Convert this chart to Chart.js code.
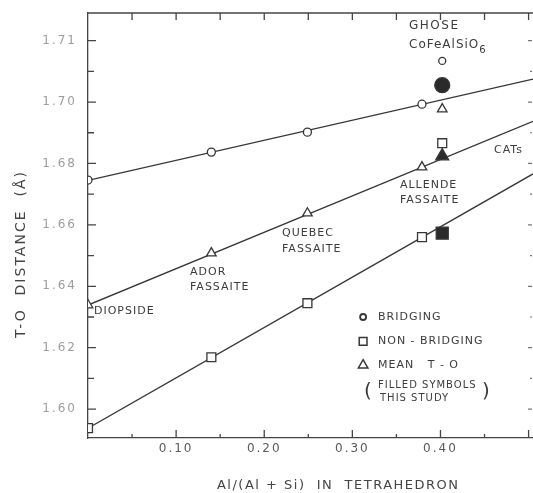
<!DOCTYPE html>
<html><head><meta charset="utf-8">
<script src="https://cdn.jsdelivr.net/npm/chart.js@4/dist/chart.umd.min.js"></script>
<style>html,body{margin:0;padding:0;background:#fff;}#wrap{width:533px;height:493px;}</style>
</head><body><div id="wrap"><canvas id="c" width="533" height="493"></canvas></div>
<script>
// ---- data ----
const seriesX = [0, 0.140, 0.249, 0.379];
const bridgingY = [1.6746, 1.6837, 1.6902, 1.6993];
const nonBridgingY = [1.5938, 1.6169, 1.6345, 1.6560];
const meanY = [1.6339, 1.6508, 1.6638, 1.6788];
const ghoseX = [0.402];
const ghoseBridging = [1.7134];
const ghoseNonBridging = [1.6866];
const ghoseMean = [1.6977];
const studyX = [0.402];
const studyBridging = [1.7055];
const studyNonBridging = [1.6573];
const studyMean = [1.6824];
const fitX = [0, 0.505];
const bridgingFit = [1.6745, 1.7075];
const meanFit = [1.6339, 1.6937];
const nonBridgingFit = [1.5938, 1.6766];
const xTickValues = [0.1, 0.2, 0.3, 0.4];
const xTickLabels = ['0.10', '0.20', '0.30', '0.40'];
const yTickValues = [1.60, 1.62, 1.64, 1.66, 1.68, 1.70, 1.72];
const yTickLabels = ['1.60', '1.62', '1.64', '1.66', '1.68', '1.70', '1.71'];
const xMinorTicks = [0.05, 0.10, 0.15, 0.20, 0.25, 0.30, 0.35, 0.40, 0.45, 0.50];
const yMinorTicks = [1.60, 1.61, 1.62, 1.63, 1.64, 1.65, 1.66, 1.67, 1.68, 1.69, 1.70, 1.71, 1.72];
const xTitle = 'Al/(Al + Si)  IN  TETRAHEDRON';
const yTitle = 'T-O  DISTANCE  (Å)';
const notes = [
  {t: 'CATs', x: 0.4607, y: 1.6844},
  {t: 'ALLENDE', x: 0.354, y: 1.6730},
  {t: 'FASSAITE', x: 0.354, y: 1.6681},
  {t: 'QUEBEC', x: 0.2202, y: 1.6573},
  {t: 'FASSAITE', x: 0.2202, y: 1.6521},
  {t: 'ADOR', x: 0.1158, y: 1.6446},
  {t: 'FASSAITE', x: 0.1158, y: 1.6397},
  {t: 'DIOPSIDE', x: 0.0068, y: 1.6319}
];
const ghoseNote = {t: 'GHOSE', x: 0.3643, y: 1.7248};
const formula = {t: 'CoFeAlSiO', sub: '6', x: 0.3643, y: 1.7186};
const legendItems = [
  {t: 'BRIDGING', s: 'circle', y: 1.6300},
  {t: 'NON - BRIDGING', s: 'rect', y: 1.6221},
  {t: 'MEAN   T - O', s: 'triangle', y: 1.6143}
];
const legendSymbolX = 0.3122, legendTextX = 0.3291;
const footnote = [{t: 'FILLED SYMBOLS', y: 1.6078}, {t: 'THIS STUDY', y: 1.6036}];

const INK = '#363636';
const pts = (xs, ys) => xs.map((x, i) => ({x, y: ys[i]}));
const lineDs = (ys) => ({type: 'line', data: pts(fitX, ys), borderColor: INK, borderWidth: 1.3, pointRadius: 0, fill: false, order: 2});
const markDs = (xs, ys, style, r, filled) => ({data: pts(xs, ys), showLine: false, pointStyle: style, pointRadius: r,
  pointBorderWidth: 1.3, pointBorderColor: INK, pointBackgroundColor: filled ? '#2a2a2a' : '#fff', order: 1});

const decor = {
  id: 'decor',
  beforeDraw(chart) { chart.ctx.letterSpacing = '2px'; },
  afterDraw(chart) {
    const ctx = chart.ctx, xs = chart.scales.x, ys = chart.scales.y, a = chart.chartArea;
    const X = v => xs.getPixelForValue(v), Y = v => ys.getPixelForValue(v);
    ctx.save();
    ctx.strokeStyle = '#444'; ctx.lineWidth = 1.3;
    // top border
    ctx.beginPath(); ctx.moveTo(a.left, a.top); ctx.lineTo(a.right, a.top); ctx.stroke();
    ctx.beginPath();
    xMinorTicks.forEach((v, i) => {
      const major = i % 2 === 1;
      const px = X(v);
      ctx.moveTo(px, a.bottom); ctx.lineTo(px, a.bottom - (major ? 8 : 4));
      ctx.moveTo(px, a.top); ctx.lineTo(px, a.top + 7);
    });
    yMinorTicks.forEach((v, i) => {
      const major = i % 2 === 0;
      const py = Y(v);
      ctx.moveTo(a.left, py); ctx.lineTo(a.left + (major ? 8 : 6), py);
    });
    ctx.stroke();
    ctx.strokeStyle = '#777'; ctx.lineWidth = 1.2;
    ctx.beginPath();
    yMinorTicks.forEach((v, i) => {
      const major = i % 2 === 0;
      const py = Y(v);
      ctx.moveTo(a.right - 1, py); ctx.lineTo(a.right - (major ? 5 : 3), py);
    });
    ctx.stroke();

    // annotations
    ctx.fillStyle = '#3c3c3c';
    ctx.textBaseline = 'middle'; ctx.textAlign = 'left';
    ctx.font = '11px "DejaVu Sans"';
    ctx.letterSpacing = '1px';
    notes.forEach(n => ctx.fillText(n.t, X(n.x), Y(n.y)));
    ctx.font = '12px "DejaVu Sans"';
    ctx.letterSpacing = '1.5px';
    ctx.fillText(ghoseNote.t, X(ghoseNote.x), Y(ghoseNote.y));
    const fx = X(formula.x), fy = Y(formula.y);
    ctx.letterSpacing = '1px';
    ctx.fillText(formula.t, fx, fy);
    const w = ctx.measureText(formula.t).width;
    ctx.font = '10px "DejaVu Sans"';
    ctx.fillText(formula.sub, fx + w, fy + 5);

    // legend
    ctx.font = '11px "DejaVu Sans"';
    legendItems.forEach(it => {
      const px = X(legendSymbolX), py = Y(it.y);
      ctx.lineWidth = it.s === 'circle' ? 1.8 : 1.5;
      ctx.strokeStyle = INK; ctx.fillStyle = '#fff';
      Chart.helpers.drawPoint(ctx, {pointStyle: it.s, radius: it.s === 'circle' ? 3 : 5.5, borderWidth: 1.5}, px, py);
      ctx.fillStyle = '#3c3c3c';
      ctx.fillText(it.t, X(legendTextX), py);
    });
    ctx.font = '10px "DejaVu Sans"';
    ctx.fillText(footnote[0].t, X(legendTextX), Y(footnote[0].y));
    ctx.fillText(footnote[1].t, X(legendTextX) + 2, Y(footnote[1].y));
    ctx.font = '20px "DejaVu Sans"';
    ctx.letterSpacing = '0px';
    const midY = (Y(footnote[0].y) + Y(footnote[1].y)) / 2;
    ctx.fillText('(', X(legendSymbolX) + 1, midY);
    ctx.fillText(')', X(legendTextX) + 104, midY);

    // axis titles
    ctx.fillStyle = '#444';
    ctx.font = '13px "DejaVu Sans"';
    ctx.letterSpacing = '1.5px';
    ctx.textAlign = 'center';
    ctx.fillText(xTitle, X(0.284), chart.height - 7);
    ctx.save();
    ctx.translate(21, Y(1.6505));
    ctx.rotate(-Math.PI / 2);
    ctx.font = '14px "DejaVu Sans"';
    ctx.letterSpacing = '2px';
    ctx.fillText(yTitle, 0, 0);
    ctx.restore();
    ctx.restore();
  }
};

new Chart(document.getElementById('c'), {
  type: 'scatter',
  data: {datasets: [
    lineDs(bridgingFit), lineDs(meanFit), lineDs(nonBridgingFit),
    markDs(seriesX, bridgingY, 'circle', 4, false),
    markDs(seriesX, nonBridgingY, 'rect', 6.3, false),
    markDs(seriesX, meanY, 'triangle', 5.5, false),
    markDs(ghoseX, ghoseBridging, 'circle', 3.5, false),
    markDs(ghoseX, ghoseNonBridging, 'rect', 6.3, false),
    markDs(ghoseX, ghoseMean, 'triangle', 5.5, false),
    markDs(studyX, studyBridging, 'circle', 7.5, true),
    markDs(studyX, studyNonBridging, 'rect', 8.5, true),
    markDs(studyX, studyMean, 'triangle', 7.5, true)
  ]},
  options: {
    responsive: false, animation: false, devicePixelRatio: 1,
    layout: {autoPadding: false, padding: {top: 13, left: 0, right: 0, bottom: 0}},
    plugins: {legend: {display: false}, tooltip: {enabled: false}},
    scales: {
      x: {type: 'linear', min: 0, max: 0.505,
        afterBuildTicks: s => { s.ticks = xTickValues.map(v => ({value: v})); },
        afterFit: s => { s.height = 55; s.paddingLeft = 0; s.paddingRight = 0; },
        ticks: {autoSkip: false, maxRotation: 0, padding: 4, color: '#5a5a5a',
          font: {family: 'DejaVu Sans', size: 12}, callback: (v, i) => xTickLabels[i]},
        grid: {display: false, drawTicks: false},
        border: {display: true, color: '#444', width: 1.3}},
      y: {type: 'linear', min: 1.5906, max: 1.7290,
        afterBuildTicks: s => { s.ticks = yTickValues.map(v => ({value: v})); },
        afterFit: s => { s.width = 88; s.paddingTop = 0; s.paddingBottom = 0; },
        ticks: {autoSkip: false, padding: 11, color: '#9c9c9c',
          font: {family: 'DejaVu Sans', size: 12}, callback: (v, i) => yTickLabels[i]},
        grid: {display: false, drawTicks: false},
        border: {display: true, color: '#444', width: 1.3}}
    }
  },
  plugins: [decor]
});
</script></body></html>
